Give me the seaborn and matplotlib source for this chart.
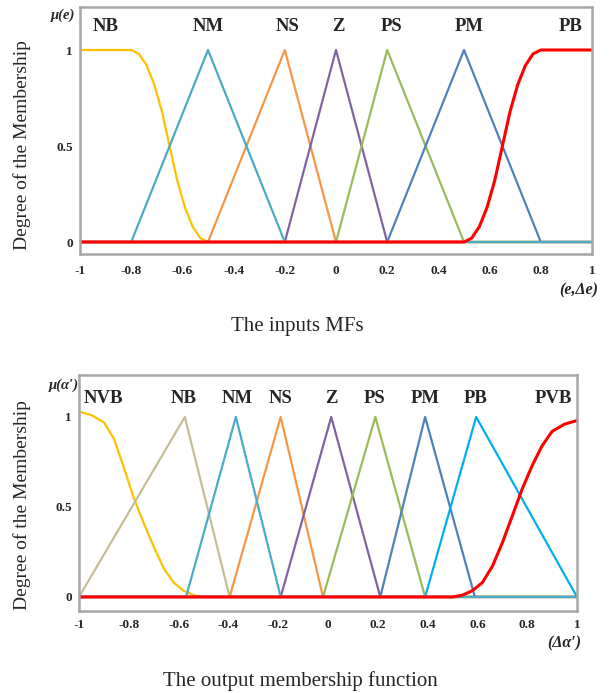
import matplotlib
matplotlib.use("Agg")
import matplotlib.pyplot as plt
import seaborn as sns
import pandas as pd

# ---------------- data: input MFs ----------------
in_names = ["NB", "NM", "NS", "Z", "PS", "PM", "PB"]
in_NB_x = [-1, -0.8, -0.77, -0.74, -0.71, -0.68, -0.65, -0.62, -0.59, -0.56, -0.53, -0.5, 1]
in_NB_y = [1, 1, 0.98, 0.92, 0.82, 0.68, 0.5, 0.32, 0.18, 0.08, 0.02, 0, 0]
in_NM_x = [-1, -0.8, -0.5, -0.2, 1]
in_NM_y = [0, 0, 1, 0, 0]
in_NS_x = [-1, -0.5, -0.2, 0, 1]
in_NS_y = [0, 0, 1, 0, 0]
in_Z_x = [-1, -0.2, 0, 0.2, 1]
in_Z_y = [0, 0, 1, 0, 0]
in_PS_x = [-1, 0, 0.2, 0.5, 1]
in_PS_y = [0, 0, 1, 0, 0]
in_PM_x = [-1, 0.2, 0.5, 0.8, 1]
in_PM_y = [0, 0, 1, 0, 0]
in_PB_x = [-1, 0.5, 0.53, 0.56, 0.59, 0.62, 0.65, 0.68, 0.71, 0.74, 0.77, 0.8, 1]
in_PB_y = [0, 0, 0.02, 0.08, 0.18, 0.32, 0.5, 0.68, 0.82, 0.92, 0.98, 1, 1]

# ---------------- data: output MFs ----------------
out_names = ["NVB", "NB", "NM", "NS", "Z", "PS", "PM", "PB", "PVB"]
out_NVB_x = [-1, -0.95, -0.9, -0.86, -0.82, -0.78, -0.74, -0.7, -0.66, -0.62, -0.58, -0.54, -0.5, 1]
out_NVB_y = [1.03, 1.01, 0.97, 0.88, 0.72, 0.55, 0.41, 0.28, 0.16, 0.08, 0.035, 0.01, 0, 0]
out_NB_x = [-1, -0.575, -0.395, 1]
out_NB_y = [0, 1, 0, 0]
out_NM_x = [-1, -0.57, -0.37, -0.19, 1]
out_NM_y = [0, 0, 1, 0, 0]
out_NS_x = [-1, -0.395, -0.19, -0.02, 1]
out_NS_y = [0, 0, 1, 0, 0]
out_Z_x = [-1, -0.19, 0.013, 0.21, 1]
out_Z_y = [0, 0, 1, 0, 0]
out_PS_x = [-1, -0.02, 0.19, 0.39, 1]
out_PS_y = [0, 0, 1, 0, 0]
out_PM_x = [-1, 0.21, 0.39, 0.59, 1]
out_PM_y = [0, 0, 1, 0, 0]
out_PB_x = [-1, 0.39, 0.595, 1]
out_PB_y = [0, 0, 1, 0]
out_PVB_x = [-1, 0.5, 0.54, 0.58, 0.62, 0.66, 0.7, 0.74, 0.78, 0.82, 0.86, 0.9, 0.95, 1]
out_PVB_y = [0, 0, 0.01, 0.035, 0.08, 0.17, 0.3, 0.45, 0.6, 0.73, 0.84, 0.92, 0.96, 0.98]

x_ticks = [-1, -0.8, -0.6, -0.4, -0.2, 0, 0.2, 0.4, 0.6, 0.8, 1]
x_tick_labels = ["-1", "-0.8", "-0.6", "-0.4", "-0.2", "0", "0.2", "0.4", "0.6", "0.8", "1"]
y_ticks = [0, 0.5, 1]
y_tick_labels = ["0", "0.5", "1"]

# ---------------- styling ----------------
sns.set_style("white")
plt.rcParams["font.family"] = ["Liberation Serif", "DejaVu Serif"]

C_YEL = "#FFC000"
C_TEAL = "#4BACC6"
C_ORG = "#F79646"
C_PUR = "#8064A2"
C_GRN = "#9BBB59"
C_BLU = "#4F81BD"
C_RED = "#FF0000"
C_TAN = "#C4BD97"
C_CYN = "#00B0F0"
C_FRAME = "#A6A6A6"

fig = plt.figure(figsize=(6.14, 6.93), dpi=100)
ax1 = fig.add_axes([80 / 614, 1 - 254 / 693, 512 / 614, 247 / 693])
ax2 = fig.add_axes([79 / 614, 1 - 611 / 693, 498 / 614, 236 / 693])


def draw(ax, xs, ys, color, lw):
    df = pd.DataFrame({"x": xs, "mu": ys})
    sns.lineplot(data=df, x="x", y="mu", ax=ax, color=color, linewidth=lw,
                 sort=False, estimator=None, legend=False)


# draw order chosen so the zero baseline shows red, then teal on the right
in_series = [
    ("NB", in_NB_x, in_NB_y, C_YEL),
    ("NS", in_NS_x, in_NS_y, C_ORG),
    ("Z", in_Z_x, in_Z_y, C_PUR),
    ("PS", in_PS_x, in_PS_y, C_GRN),
    ("PM", in_PM_x, in_PM_y, C_BLU),
    ("NM", in_NM_x, in_NM_y, C_TEAL),
    ("PB", in_PB_x, in_PB_y, C_RED),
]
for nm, xs, ys, c in in_series:
    draw(ax1, xs, ys, c, 2.2 if nm == "PB" else 1.6)

out_series = [
    ("NVB", out_NVB_x, out_NVB_y, C_YEL),
    ("NB", out_NB_x, out_NB_y, C_TAN),
    ("NS", out_NS_x, out_NS_y, C_ORG),
    ("Z", out_Z_x, out_Z_y, C_PUR),
    ("PS", out_PS_x, out_PS_y, C_GRN),
    ("PM", out_PM_x, out_PM_y, C_BLU),
    ("PB", out_PB_x, out_PB_y, C_CYN),
    ("NM", out_NM_x, out_NM_y, C_TEAL),
    ("PVB", out_PVB_x, out_PVB_y, C_RED),
]
for nm, xs, ys, c in out_series:
    draw(ax2, xs, ys, c, 2.2 if nm == "PVB" else 1.6)

ax1.set_ylim(-0.0625, 1.224)
ax2.set_ylim(-0.078, 1.233)

for ax, xpad in ((ax1, 8), (ax2, 5.5)):
    ax.set_xlim(-1, 1)
    ax.set_xticks(x_ticks)
    ax.set_xticklabels(x_tick_labels, fontweight="bold", fontsize=9.5)
    ax.set_yticks(y_ticks)
    ax.set_yticklabels(y_tick_labels, fontweight="bold", fontsize=9.5)
    ax.tick_params(axis="x", length=0, pad=xpad)
    ax.tick_params(axis="y", direction="in", length=4, width=1.2,
                   color=C_FRAME, pad=5)
    for sp in ax.spines.values():
        sp.set_color(C_FRAME)
        sp.set_linewidth(1.8)
    ax.set_xlabel("")
    ax.set_ylabel("Degree of the Membership", fontsize=14)
    ax.grid(False)

ax1.yaxis.set_label_coords(-0.096, 0.44)
ax2.yaxis.set_label_coords(-0.096, 0.45)

# MF name labels
in_label_x = [-0.9, -0.5, -0.19, 0.008, 0.215, 0.52, 0.918]
for nm, lx in zip(in_names, in_label_x):
    ax1.text(lx, 1.12, nm, ha="center", va="center", fontsize=13.5,
             fontweight="bold")
out_label_x = [-0.9, -0.58, -0.365, -0.19, 0.012, 0.185, 0.39, 0.594, 0.904]
for nm, lx in zip(out_names, out_label_x):
    ax2.text(lx, 1.105, nm, ha="center", va="center", fontsize=13.5,
             fontweight="bold")

# axis symbols
fig.text(75 / 614, 1 - 15 / 693, "μ(e)", ha="right", va="center",
         fontsize=10.5, fontweight="bold", fontstyle="italic")
fig.text(79 / 614, 1 - 385 / 693, "μ(α′)", ha="right", va="center",
         fontsize=10.5, fontweight="bold", fontstyle="italic")
fig.text(598 / 614, 1 - 290 / 693, "(e,Δe)", ha="right", va="center",
         fontsize=11.5, fontweight="bold", fontstyle="italic")
fig.text(581 / 614, 1 - 643 / 693, "(Δα′)", ha="right", va="center",
         fontsize=11.5, fontweight="bold", fontstyle="italic")

# captions
fig.text(297 / 614, 1 - 327 / 693, "The inputs MFs", ha="center",
         va="center", fontsize=15)
fig.text(300 / 614, 1 - 681 / 693, "The output membership function",
         ha="center", va="center", fontsize=15)

fig.savefig("out.png", dpi=100)
